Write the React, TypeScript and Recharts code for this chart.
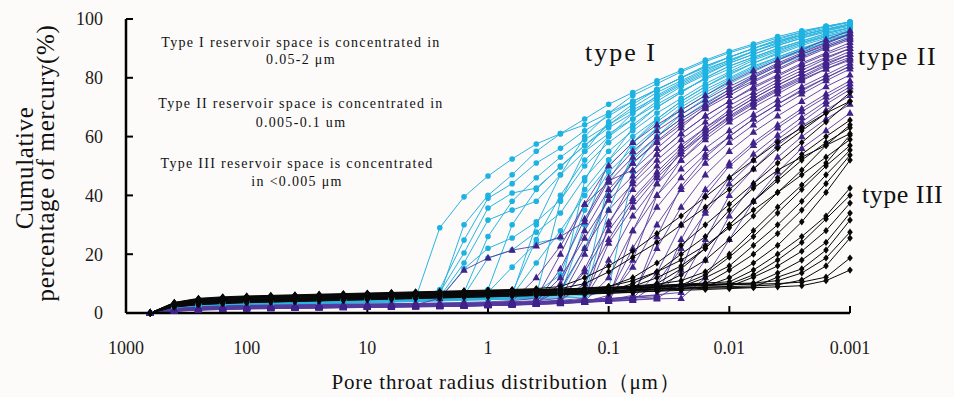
import React from 'react';
import { LineChart, Line, XAxis, YAxis } from 'recharts';

// Pore throat radius (µm) at each mercury injection step
const radii = [631, 398, 251, 158, 100, 63.1, 39.8, 25.1, 15.8, 10, 6.31, 3.98, 2.51, 1.58, 1, 0.631, 0.398, 0.251, 0.158, 0.1, 0.0631, 0.0398, 0.0251, 0.0158, 0.01, 0.00631, 0.00398, 0.00251, 0.00158, 0.001];
const xTicks = [1000, 100, 10, 1, 0.1, 0.01, 0.001];
const yTicks = [0, 20, 40, 60, 80, 100];

// Type I samples (cumulative mercury saturation, %)
const typeI = [
  [0, 2, 2.8, 3.2, 3.5, 3.7, 3.9, 4.1, 4.3, 4.5, 4.7, 5, 29, 39.5, 46.6, 52.4, 57.5, 61, 64, 68, 72, 76, 80, 83.5, 87, 90, 92.5, 95, 97, 99],
  [0, 1.8, 2.5, 2.9, 3.2, 3.4, 3.6, 3.8, 4, 4.2, 4.4, 4.6, 8, 24.8, 39, 44, 51, 56, 62, 67, 72, 76, 80, 84, 87, 90, 93, 95.5, 97.5, 99],
  [0, 1.5, 2.2, 2.6, 2.9, 3.1, 3.3, 3.5, 3.7, 3.9, 4.1, 4.3, 7, 20.4, 35.7, 40.8, 42.5, 49.7, 57, 64, 70, 75, 79, 83, 86, 89, 92, 94.5, 96.5, 98],
  [0, 2.2, 3, 3.4, 3.7, 3.9, 4.1, 4.3, 4.5, 4.7, 4.9, 5.1, 5.5, 17, 31.6, 35, 38, 47, 55, 61, 66, 72, 77, 81, 85, 88, 91, 93.5, 95.5, 97],
  [0, 1.6, 2.3, 2.7, 3, 3.2, 3.4, 3.6, 3.8, 4, 4.2, 4.4, 4.8, 15, 22, 25.5, 31, 38.4, 50, 58, 64, 70, 75, 80, 84, 87, 90, 92.5, 95, 97],
  [0, 1.4, 2, 2.4, 2.7, 2.9, 3.1, 3.3, 3.5, 3.7, 3.9, 4.1, 4.5, 6, 18.7, 21.4, 27.5, 34, 46, 55, 62, 68, 73, 78, 82, 86, 89, 92, 94, 96],
  [0, 2, 2.7, 3.1, 3.4, 3.6, 3.8, 4, 4.2, 4.4, 4.6, 4.8, 5, 5.3, 7, 15.6, 23.8, 25.5, 42, 52, 60, 66, 72, 77, 81, 85, 88, 91, 93.5, 95.5],
  [0, 1.7, 2.4, 2.8, 3.1, 3.3, 3.5, 3.7, 3.9, 4.1, 4.3, 4.5, 4.7, 5, 5.3, 6, 17, 28, 40, 50, 58, 65, 71, 76, 80, 84, 87, 90, 92.5, 95],
  [0, 1.5, 2.1, 2.5, 2.8, 3, 3.2, 3.4, 3.6, 3.8, 4, 4.2, 4.4, 4.6, 4.9, 5.3, 7, 13, 35, 48, 56, 63, 69, 74, 79, 83, 86.5, 89.5, 92, 94.5],
  [0, 2.1, 2.9, 3.3, 3.6, 3.8, 4, 4.2, 4.4, 4.6, 4.8, 5, 5.2, 5.4, 5.6, 6, 30, 47, 60, 68, 74, 78, 82, 85.5, 88.5, 91, 93.5, 95.5, 97.5, 99],
  [0, 1.8, 2.6, 3, 3.3, 3.5, 3.7, 3.9, 4.1, 4.3, 4.5, 4.7, 4.9, 5.1, 5.3, 5.5, 6, 38, 55, 65, 71, 76, 80, 84, 87, 90, 92.5, 94.5, 96.5, 98],
  [0, 1.3, 1.9, 2.3, 2.6, 2.8, 3, 3.2, 3.4, 3.6, 3.8, 4, 4.2, 4.4, 4.6, 4.8, 5, 8, 45, 60, 68, 74, 78.5, 82.5, 86, 89, 91.5, 94, 96, 97.5],
  [0, 1.6, 2.3, 2.7, 3, 3.2, 3.4, 3.6, 3.8, 4, 4.2, 4.4, 4.6, 4.8, 5, 5.2, 5.4, 6, 30, 52, 63, 70, 75, 80, 84, 87, 90, 92.5, 95, 97],
  [0, 1.9, 2.6, 3, 3.3, 3.5, 3.7, 3.9, 4.1, 4.3, 4.5, 4.7, 4.9, 5.1, 5.3, 5.5, 5.7, 6, 8, 45, 58, 66, 72, 77, 81.5, 85, 88.5, 91.5, 94, 96],
  [0, 2.3, 3.1, 3.5, 3.8, 4, 4.2, 4.4, 4.6, 4.8, 5, 5.2, 6, 30, 40, 47, 55, 61, 66, 71, 75, 79, 82.5, 86, 89, 91.5, 94, 96, 97.5, 99],
  [0, 1.7, 2.4, 2.8, 3.1, 3.3, 3.5, 3.7, 3.9, 4.1, 4.3, 4.5, 4.7, 5, 8, 30, 42, 50, 57, 63, 68, 73, 77.5, 81.5, 85, 88, 91, 93.5, 96, 98],
  [0, 1.5, 2.2, 2.6, 2.9, 3.1, 3.3, 3.5, 3.7, 3.9, 4.1, 4.3, 4.5, 4.7, 4.9, 5.1, 5.3, 5.5, 6, 35, 54, 63, 70, 75, 79.5, 83.5, 87, 90, 93, 95],
  [0, 1.2, 1.8, 2.2, 2.5, 2.7, 2.9, 3.1, 3.3, 3.5, 3.7, 3.9, 4.1, 4.3, 4.5, 4.7, 4.9, 5.1, 5.4, 8, 48, 60, 67.5, 73, 78, 82, 86, 89, 92, 94.5],
  [0, 2, 2.7, 3.1, 3.4, 3.6, 3.8, 4, 4.2, 4.4, 4.6, 4.8, 5.2, 7, 26, 38, 46, 53, 59, 64, 69, 73.5, 78, 82, 85.5, 89, 92, 94.5, 96.5, 98.5],
  [0, 1.6, 2.3, 2.7, 3, 3.2, 3.4, 3.6, 3.8, 4, 4.2, 4.4, 4.6, 4.9, 5.3, 7, 25, 40, 52, 60, 66, 71, 75.5, 79.5, 83, 86.5, 89.5, 92, 94.5, 96.5],
  [0, 1.4, 2, 2.4, 2.7, 2.9, 3.1, 3.3, 3.5, 3.7, 3.9, 4.1, 4.3, 4.5, 4.7, 4.9, 5.2, 7, 22, 40, 52, 60, 66, 71.5, 76, 80, 84, 87.5, 90.5, 93.5],
];

// Type II samples
const typeII = [
  [0, 1, 1.5, 1.8, 2, 2.1, 2.2, 2.3, 2.4, 2.5, 2.6, 2.8, 5, 14.6, 18.7, 21.4, 22.8, 26, 31, 45, 48.6, 56, 63, 70, 75, 80, 84, 88, 91, 94],
  [0, 0.8, 1.2, 1.4, 1.6, 1.7, 1.8, 1.9, 2, 2.1, 2.2, 2.3, 2.4, 2.6, 2.8, 3.2, 4, 12, 25.5, 38.4, 46.6, 54, 61, 67, 72, 77, 81, 85, 88.5, 92],
  [0, 1.2, 1.7, 2, 2.2, 2.3, 2.4, 2.5, 2.6, 2.7, 2.8, 2.9, 3, 3.1, 3.2, 3.3, 3.5, 8, 22, 35, 44, 52, 59, 65, 70.5, 75, 79.5, 83.5, 87, 90],
  [0, 0.6, 1, 1.2, 1.4, 1.5, 1.6, 1.7, 1.8, 1.9, 2, 2.1, 2.2, 2.3, 2.5, 2.7, 3, 4, 15, 31, 42, 50, 57, 63, 68, 73, 77.5, 81.5, 85, 88],
  [0, 1.4, 2, 2.3, 2.5, 2.6, 2.7, 2.8, 2.9, 3, 3.1, 3.2, 3.3, 3.4, 3.5, 3.6, 3.8, 4.2, 10, 25, 38, 47, 55, 61, 66.5, 71.5, 76, 80, 84, 87],
  [0, 0.9, 1.3, 1.5, 1.7, 1.8, 1.9, 2, 2.1, 2.2, 2.3, 2.4, 2.5, 2.6, 2.7, 2.9, 3.1, 3.4, 5, 18, 33, 44, 52, 59, 65, 70, 74.5, 79, 83, 86],
  [0, 1.1, 1.6, 1.9, 2.1, 2.2, 2.3, 2.4, 2.5, 2.6, 2.7, 2.8, 2.9, 3, 3.1, 3.3, 3.5, 3.7, 4, 12, 28, 40, 49, 56, 62, 67.5, 72.5, 77, 81, 85],
  [0, 0.7, 1.1, 1.3, 1.5, 1.6, 1.7, 1.8, 1.9, 2, 2.1, 2.2, 2.3, 2.4, 2.6, 2.8, 3, 3.3, 3.8, 6, 22, 36, 46, 54, 60, 66, 71, 76, 80, 84],
  [0, 1.3, 1.8, 2.1, 2.3, 2.4, 2.5, 2.6, 2.7, 2.8, 2.9, 3, 3.1, 3.2, 3.3, 3.5, 3.7, 4, 4.4, 5, 15.6, 30, 42, 51, 58, 64, 69.5, 74.5, 79, 83],
  [0, 0.8, 1.2, 1.4, 1.6, 1.7, 1.8, 1.9, 2, 2.1, 2.2, 2.3, 2.4, 2.5, 2.7, 2.9, 3.1, 3.4, 3.8, 4.5, 6, 22, 36, 47, 55, 61.5, 67, 72, 77, 81],
  [0, 1, 1.5, 1.8, 2, 2.1, 2.2, 2.3, 2.4, 2.5, 2.6, 2.7, 2.8, 2.9, 3, 3.2, 3.4, 3.7, 4.1, 4.6, 5, 13.6, 30, 42, 51, 58, 64, 69.5, 74.5, 79],
  [0, 1.2, 1.7, 2, 2.2, 2.3, 2.4, 2.5, 2.6, 2.7, 2.8, 2.9, 3, 3.1, 3.3, 3.5, 3.7, 4, 4.4, 4.9, 5.4, 6, 14.6, 35, 46, 54, 60.5, 66.5, 72, 77],
  [0, 0.7, 1.1, 1.3, 1.5, 1.6, 1.7, 1.8, 1.9, 2, 2.1, 2.2, 2.3, 2.4, 2.6, 2.8, 3, 3.3, 3.7, 4.2, 4.6, 5, 10, 25, 40, 49, 57, 63.5, 69, 74],
  [0, 1.1, 1.6, 1.9, 2.1, 2.2, 2.3, 2.4, 2.5, 2.6, 2.7, 2.8, 2.9, 3, 3.2, 3.4, 3.7, 4, 4.4, 4.9, 5.5, 6.2, 7, 18, 33, 44, 53, 60, 66, 71],
  [0, 1.5, 2.1, 2.4, 2.6, 2.7, 2.8, 2.9, 3, 3.1, 3.2, 3.3, 3.4, 3.6, 3.8, 4.2, 5, 20, 37, 50, 58, 64, 69, 74, 78.5, 82.5, 86, 89.5, 93, 96],
  [0, 0.9, 1.3, 1.6, 1.8, 1.9, 2, 2.1, 2.2, 2.3, 2.4, 2.5, 2.7, 3, 3.4, 4, 12, 22.8, 37, 44.5, 53, 60, 66, 71, 76, 80.5, 84.5, 88, 91.5, 95],
  [0, 1.2, 1.7, 2, 2.2, 2.3, 2.4, 2.5, 2.6, 2.7, 2.8, 2.9, 3, 3.2, 3.5, 3.8, 4.2, 5, 20, 40, 51, 58, 64, 69.5, 74, 78.5, 82.5, 86.5, 90, 93],
  [0, 0.8, 1.2, 1.5, 1.7, 1.8, 1.9, 2, 2.1, 2.2, 2.3, 2.4, 2.5, 2.6, 2.8, 3, 3.2, 3.5, 3.8, 4, 18, 40, 52, 60, 66, 71, 75.5, 79.5, 83, 86.5],
  [0, 1, 1.4, 1.7, 1.9, 2, 2.1, 2.2, 2.3, 2.4, 2.5, 2.6, 2.7, 2.8, 3, 3.2, 3.4, 3.6, 3.8, 4, 4.3, 10, 22, 34, 44, 52, 59, 65, 71, 76],
  [0, 0.6, 1, 1.2, 1.4, 1.5, 1.6, 1.7, 1.8, 1.9, 2, 2.1, 2.2, 2.3, 2.5, 2.7, 2.9, 3.2, 3.6, 4, 4.4, 4.8, 5, 12, 25, 38, 48, 56, 62, 68],
  [0, 1.3, 1.8, 2.1, 2.3, 2.4, 2.5, 2.6, 2.7, 2.8, 2.9, 3, 3.1, 3.2, 3.4, 3.6, 3.9, 4.3, 5, 23.8, 36, 46, 54, 61, 67, 72, 76.5, 80.5, 84.5, 88],
  [0, 0.9, 1.3, 1.6, 1.8, 1.9, 2, 2.1, 2.2, 2.3, 2.4, 2.5, 2.6, 2.7, 2.9, 3.1, 3.4, 10, 28, 42, 51, 58.5, 65, 70.5, 75, 79, 83, 87, 90.5, 93.5],
  [0, 1.1, 1.5, 1.8, 2, 2.1, 2.2, 2.3, 2.4, 2.5, 2.6, 2.7, 2.8, 2.9, 3.1, 3.3, 3.6, 15, 32, 46, 55, 62, 67.5, 72.5, 77, 81, 85, 88.5, 92, 95],
  [0, 0.9, 1.3, 1.5, 1.7, 1.8, 1.9, 2, 2.1, 2.2, 2.3, 2.4, 2.5, 2.6, 2.8, 3, 3.3, 3.8, 4.5, 30, 45, 54, 61, 67, 72, 76.5, 80.5, 84.5, 88, 91],
  [0, 1.2, 1.6, 1.9, 2.1, 2.2, 2.3, 2.4, 2.5, 2.6, 2.7, 2.8, 2.9, 3, 3.2, 3.4, 3.6, 3.9, 4.3, 5, 28, 44, 55, 62, 68, 73, 77.5, 81.5, 85.5, 89],
  [0, 0.7, 1.1, 1.3, 1.5, 1.6, 1.7, 1.8, 1.9, 2, 2.1, 2.2, 2.3, 2.4, 2.6, 2.8, 3, 3.3, 3.7, 4.2, 5, 26, 43, 53, 60, 66, 71, 75.5, 80, 84],
  [0, 1, 1.4, 1.7, 1.9, 2, 2.1, 2.2, 2.3, 2.4, 2.5, 2.6, 2.7, 2.8, 3, 3.2, 3.4, 3.7, 4.1, 4.6, 5.1, 5.5, 25, 40, 50, 57, 63, 68.5, 73.5, 78],
  [0, 0.8, 1.2, 1.5, 1.7, 1.8, 1.9, 2, 2.1, 2.2, 2.3, 2.4, 2.5, 2.6, 2.8, 3, 3.3, 4.5, 14, 28, 39, 48, 56, 63, 69, 74, 78.5, 82.5, 86.5, 90],
];

// Type III samples
const typeIII = [
  [0, 3.5, 4.8, 5.3, 5.6, 5.8, 6, 6.2, 6.4, 6.6, 6.8, 7, 7.2, 7.4, 7.6, 7.8, 8, 8.3, 10, 14, 19, 24, 30, 36, 42, 49, 56, 62, 68, 75],
  [0, 3, 4.2, 4.7, 5, 5.2, 5.4, 5.6, 5.8, 6, 6.2, 6.4, 6.6, 6.8, 7, 7.2, 7.4, 7.7, 8, 9, 12, 17, 23, 30, 37, 44, 51, 58, 65, 72],
  [0, 2.8, 3.8, 4.2, 4.5, 4.7, 4.9, 5.1, 5.3, 5.5, 5.7, 5.9, 6.1, 6.3, 6.5, 6.7, 6.9, 7.1, 7.4, 7.8, 9, 12, 16, 22, 30, 38, 46, 54, 60, 65.6],
  [0, 2.5, 3.5, 3.9, 4.2, 4.4, 4.6, 4.8, 5, 5.2, 5.4, 5.6, 5.8, 6, 6.2, 6.4, 6.6, 6.8, 7.1, 7.5, 8, 9, 13, 18, 25, 33, 41, 48.6, 57, 64],
  [0, 3.2, 4.5, 5, 5.3, 5.5, 5.7, 5.9, 6.1, 6.3, 6.5, 6.7, 6.9, 7.1, 7.3, 7.5, 7.7, 7.9, 8.2, 8.6, 9.2, 9.8, 11, 14, 20, 28, 36, 43.5, 51, 60.5],
  [0, 2.2, 3.1, 3.5, 3.8, 4, 4.2, 4.4, 4.6, 4.8, 5, 5.2, 5.4, 5.6, 5.8, 6, 6.2, 6.4, 6.7, 7, 7.5, 8.2, 9, 12, 16, 23, 30, 38, 47, 55.4],
  [0, 2.9, 4, 4.4, 4.7, 4.9, 5.1, 5.3, 5.5, 5.7, 5.9, 6.1, 6.3, 6.5, 6.7, 6.9, 7.1, 7.3, 7.6, 8, 8.5, 9, 9.5, 10, 14.6, 20, 27, 35, 44, 53.7],
  [0, 2, 2.8, 3.2, 3.5, 3.7, 3.9, 4.1, 4.3, 4.5, 4.7, 4.9, 5.1, 5.3, 5.5, 5.7, 5.9, 6.1, 6.4, 6.7, 7, 7.5, 8.2, 9, 12, 17, 23, 31, 41, 52],
  [0, 3.3, 4.6, 5.1, 5.4, 5.6, 5.8, 6, 6.2, 6.4, 6.6, 6.8, 7, 7.2, 7.4, 7.6, 7.8, 8, 8.3, 8.6, 9, 9.4, 9.8, 10.2, 10.6, 14.6, 20, 26, 33, 42.5],
  [0, 2.6, 3.6, 4, 4.3, 4.5, 4.7, 4.9, 5.1, 5.3, 5.5, 5.7, 5.9, 6.1, 6.3, 6.5, 6.7, 6.9, 7.2, 7.5, 7.8, 8.1, 8.4, 8.7, 9, 12.2, 16, 21, 28, 37.4],
  [0, 3.1, 4.3, 4.8, 5.1, 5.3, 5.5, 5.7, 5.9, 6.1, 6.3, 6.5, 6.7, 6.9, 7.1, 7.3, 7.5, 7.7, 8, 8.3, 8.6, 8.9, 9.2, 9.5, 9.8, 10, 13.6, 18, 24, 34],
  [0, 2.4, 3.3, 3.7, 4, 4.2, 4.4, 4.6, 4.8, 5, 5.2, 5.4, 5.6, 5.8, 6, 6.2, 6.4, 6.6, 6.9, 7.2, 7.5, 7.8, 8.1, 8.4, 8.6, 8.8, 12.2, 15, 21.4, 31.6],
  [0, 3.4, 4.7, 5.2, 5.5, 5.7, 5.9, 6.1, 6.3, 6.5, 6.7, 6.9, 7.1, 7.3, 7.5, 7.7, 7.9, 8.1, 8.4, 8.7, 9, 9.3, 9.6, 9.8, 10, 10.2, 11, 13.6, 18.7, 27.5],
  [0, 2.7, 3.7, 4.1, 4.4, 4.6, 4.8, 5, 5.2, 5.4, 5.6, 5.8, 6, 6.2, 6.4, 6.6, 6.8, 7, 7.3, 7.6, 7.9, 8.2, 8.5, 8.8, 9, 9.2, 9.6, 11.2, 16, 25.5],
  [0, 3, 4.1, 4.6, 4.9, 5.1, 5.3, 5.5, 5.7, 5.9, 6.1, 6.3, 6.5, 6.7, 6.9, 7.1, 7.3, 7.5, 7.8, 8.1, 8.4, 8.7, 9, 9.3, 9.6, 9.8, 10, 10.5, 12.2, 18.7],
  [0, 2.1, 2.9, 3.3, 3.6, 3.8, 4, 4.2, 4.4, 4.6, 4.8, 5, 5.2, 5.4, 5.6, 5.8, 6, 6.2, 6.5, 6.8, 7.1, 7.4, 7.7, 8, 8.3, 8.6, 8.9, 9.3, 11, 14.6],
  [0, 3.6, 5, 5.5, 5.8, 6, 6.2, 6.4, 6.6, 6.8, 7, 7.2, 7.4, 7.6, 7.8, 8, 8.3, 9, 12, 16, 21, 27, 33, 39.5, 46, 52, 58, 63, 68, 72],
  [0, 2.3, 3.2, 3.6, 3.9, 4.1, 4.3, 4.5, 4.7, 4.9, 5.1, 5.3, 5.5, 5.7, 5.9, 6.1, 6.3, 6.5, 6.8, 7.5, 10, 14, 20, 26, 35, 42.5, 48.6, 53, 57, 61],
  [0, 2.9, 3.9, 4.3, 4.6, 4.8, 5, 5.2, 5.4, 5.6, 5.8, 6, 6.2, 6.4, 6.6, 6.8, 7, 7.2, 7.5, 7.9, 8.5, 10, 15, 22, 30, 38, 45, 52, 58, 63],
  [0, 2.4, 3.4, 3.8, 4.1, 4.3, 4.5, 4.7, 4.9, 5.1, 5.3, 5.5, 5.7, 5.9, 6.1, 6.3, 6.5, 6.7, 7, 7.4, 7.9, 8.6, 9.5, 13, 19, 26, 34, 42, 50, 57],
  [0, 3.2, 4.4, 4.9, 5.2, 5.4, 5.6, 5.8, 6, 6.2, 6.4, 6.6, 6.8, 7, 7.2, 7.4, 7.6, 7.8, 8.1, 8.4, 8.7, 9, 9.3, 9.6, 9.8, 13, 18, 24, 32, 40],
  [0, 3.4, 4.7, 5.2, 5.5, 5.7, 5.9, 6.1, 6.3, 6.5, 6.7, 6.9, 7.1, 7.3, 7.5, 7.7, 7.9, 8.1, 8.5, 9, 11, 14, 18, 23, 29, 35, 41, 47, 53, 59],
];

const CYAN = '#1cb2e2';
const CYAN_LINE = '#2ab5e0';
const PURPLE = '#41218a';
const PURPLE_LINE = '#553a9e';
const BLACK = '#080808';
const SERIF = '"Liberation Serif", "Times New Roman", serif';

const rows = radii.map((r, i) => {
  const row: Record<string, number> = { r };
  typeI.forEach((s, k) => { row[`a${k}`] = s[i]; });
  typeII.forEach((s, k) => { row[`b${k}`] = s[i]; });
  typeIII.forEach((s, k) => { row[`c${k}`] = s[i]; });
  return row;
});

const circleDot = (p: any) => {
  if (p.cx == null || p.cy == null) return <g key={`e${p.index}`} />;
  return <circle key={`d${p.index}`} cx={p.cx} cy={p.cy} r={2.8} fill={CYAN} stroke="none" />;
};
const triDot = (p: any) => {
  if (p.cx == null || p.cy == null) return <g key={`e${p.index}`} />;
  const { cx, cy } = p;
  return <path key={`d${p.index}`} d={`M${cx} ${cy - 4.2}L${cx + 3.7} ${cy + 2.6}L${cx - 3.7} ${cy + 2.6}Z`} fill={PURPLE} stroke="none" />;
};
const diaDot = (p: any) => {
  if (p.cx == null || p.cy == null) return <g key={`e${p.index}`} />;
  const { cx, cy } = p;
  return <path key={`d${p.index}`} d={`M${cx} ${cy - 3.6}L${cx + 2.8} ${cy}L${cx} ${cy + 3.6}L${cx - 2.8} ${cy}Z`} fill={BLACK} stroke="none" />;
};

const tickStyle = { fontSize: 18, fill: '#1e1a18', fontFamily: SERIF };

export default function App() {
  return (
    <div style={{ position: 'absolute', left: 0, top: 0, width: 954, height: 397, background: '#fcfbfa' }}>
      <LineChart width={954} height={397} data={rows} margin={{ top: 19, right: 104, bottom: 54, left: 66 }}>
        <XAxis
          dataKey="r"
          type="number"
          scale="log"
          domain={[0.001, 1000]}
          reversed
          ticks={xTicks}
          interval={0}
          height={30}
          tickSize={-7}
          tickMargin={35}
          axisLine={{ stroke: '#000', strokeWidth: 2.5 }}
          tickLine={{ stroke: '#000', strokeWidth: 2 }}
          tick={tickStyle}
          tickFormatter={(v: number) => String(v)}
        />
        <YAxis
          type="number"
          domain={[0, 100]}
          ticks={yTicks}
          interval={0}
          width={60}
          tickSize={-7}
          tickMargin={30}
          axisLine={{ stroke: '#000', strokeWidth: 2.5 }}
          tickLine={{ stroke: '#000', strokeWidth: 2 }}
          tick={tickStyle}
        />
        {typeI.map((_, k) => (
          <Line key={`a${k}`} dataKey={`a${k}`} type="linear" stroke={CYAN_LINE} strokeWidth={1} dot={circleDot} activeDot={false} isAnimationActive={false} />
        ))}
        {typeII.map((_, k) => (
          <Line key={`b${k}`} dataKey={`b${k}`} type="linear" stroke={PURPLE_LINE} strokeWidth={0.9} dot={triDot} activeDot={false} isAnimationActive={false} />
        ))}
        {typeIII.map((_, k) => (
          <Line key={`c${k}`} dataKey={`c${k}`} type="linear" stroke={BLACK} strokeWidth={1} dot={diaDot} activeDot={false} isAnimationActive={false} />
        ))}
      </LineChart>
      <svg width={954} height={397} style={{ position: 'absolute', left: 0, top: 0, pointerEvents: 'none' }}>
        <g fontFamily={SERIF} fill="#111">
          <text transform="translate(33,168) rotate(-90)" textAnchor="middle" fontSize={25} letterSpacing={0.6}>Cumulative</text>
          <text transform="translate(54,163) rotate(-90)" textAnchor="middle" fontSize={25} letterSpacing={0.6}>percentage of mercury(%)</text>
          <text x={506} y={389} textAnchor="middle" fontSize={21} letterSpacing={0.8}>Pore throat radius distribution（μm）</text>
          <g fontSize={14} letterSpacing={1.3} textAnchor="middle">
            <text x={301} y={47}>Type I reservoir space is concentrated in</text>
            <text x={301} y={64}>0.05-2 μm</text>
            <text x={301} y={108}>Type II reservoir space is concentrated in</text>
            <text x={301} y={127}>0.005-0.1 um</text>
            <text x={297} y={168}>Type III reservoir space is concentrated</text>
            <text x={297} y={186}>in &lt;0.005 μm</text>
          </g>
          <g fontSize={26}>
            <text x={585} y={61} letterSpacing={2}>type I</text>
            <text x={858} y={65} letterSpacing={1.5}>type II</text>
            <text x={862} y={203} letterSpacing={0.5}>type III</text>
          </g>
        </g>
      </svg>
    </div>
  );
}
